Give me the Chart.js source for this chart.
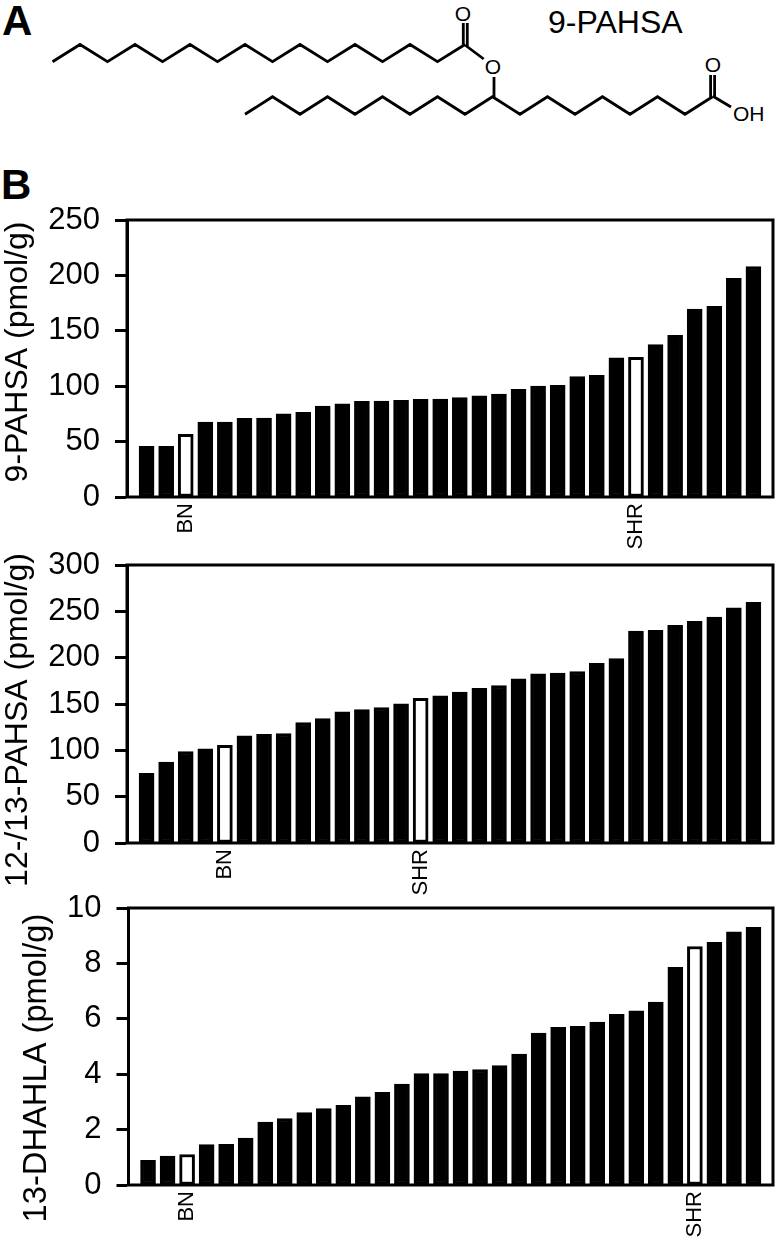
<!DOCTYPE html>
<html>
<head>
<meta charset="utf-8">
<title>9-PAHSA</title>
<script src="https://cdn.jsdelivr.net/npm/chart.js@4"></script>
<style>
  html, body { margin: 0; padding: 0; background: #fff; }
  body { position: relative; width: 777px; height: 1245px; overflow: hidden; }
  canvas, svg { position: absolute; left: 0; }
  svg { top: 0; }
  svg text { font-family: "Liberation Sans", Arial, sans-serif; fill: #000; }
</style>
</head>
<body>
<svg id="structure" width="777" height="205"></svg>
<canvas id="chart1" width="777" height="347" style="top:205px"></canvas>
<canvas id="chart2" width="777" height="348" style="top:550px"></canvas>
<canvas id="chart3" width="777" height="352" style="top:893px"></canvas>

<script>
// Values, sorted low to high in each panel
const values9Pahsa = [45.8, 45.8, 56.6, 67.7, 67.7, 71, 71.2, 75, 76.4, 82, 84, 86.4, 86.6, 87.2, 88.1, 88.4,
    89.7, 91.2, 93, 97.2, 100.2, 100.8, 108.6, 109.8, 125.5, 126, 137.5, 146, 169.7, 172, 197.4, 208];
const values1213Pahsa = [75.3, 87.2, 98.7, 101.6, 105.5, 115.6, 117.4, 118.2, 130, 134.3, 141.5, 144, 146.2, 150.2, 156, 158.8,
    162.8, 166.8, 170, 177.2, 182.6, 183.3, 185.1, 194, 199, 228.7, 229.4, 234.8, 239.2, 243.9, 253.9, 259.7];
const values13Dhahla = [0.89, 1.04, 1.1, 1.46, 1.47, 1.69, 2.27, 2.4, 2.61, 2.76, 2.88, 3.18, 3.35, 3.64, 4.02, 4.02,
    4.11, 4.17, 4.31, 4.73, 5.48, 5.69, 5.73, 5.88, 6.16, 6.29, 6.6, 7.86, 8.61, 8.76, 9.14, 9.3];

// Which bar is which strain in each panel
const strains9Pahsa = { 2: 'BN', 25: 'SHR' };
const strains1213Pahsa = { 4: 'BN', 14: 'SHR' };
const strains13Dhahla = { 2: 'BN', 28: 'SHR' };

const FONT = '"Liberation Sans", Arial, sans-serif';

// Box around the plot, the top and right sides have no axis of their own
const framePlugin = {
    id: 'frame',
    afterDraw(chart) {
        const a = chart.chartArea;
        const ctx = chart.ctx;
        ctx.save();
        ctx.strokeStyle = '#000';
        ctx.lineWidth = 3;
        ctx.strokeRect(a.left, a.top, a.right - a.left, a.bottom - a.top);
        ctx.restore();
    }
};

// The y titles sit off centre and differ per panel, so they are placed by hand
const yTitlePlugin = {
    id: 'yTitle',
    afterDraw(chart, args, opts) {
        const ctx = chart.ctx;
        ctx.save();
        ctx.translate(opts.x, opts.y);
        ctx.rotate(-Math.PI / 2);
        ctx.font = opts.size + 'px ' + FONT;
        ctx.fillStyle = '#000';
        ctx.textAlign = 'center';
        ctx.textBaseline = 'middle';
        ctx.fillText(opts.text, 0, 0);
        ctx.restore();
    }
};

function makeChart(id, values, strains, yMax, yStep, opts) {
    // one empty slot each side gives the gap between axis and first/last bar
    const labels = [''].concat(values.map((v, i) => strains[i] || ''), ['']);
    const fills = values.map((v, i) => strains[i] ? '#fff' : '#000');

    return new Chart(document.getElementById(id), {
        type: 'bar',
        data: {
            labels: labels,
            datasets: [{
                data: [null].concat(values, [null]),
                backgroundColor: [null].concat(fills, [null]),
                borderColor: '#000',
                borderWidth: 3,
                borderSkipped: false,
                barThickness: 15
            }]
        },
        options: {
            responsive: false,
            animation: false,
            layout: {
                autoPadding: false,
                padding: { top: 15, right: 4, left: 0, bottom: 0 }
            },
            plugins: {
                legend: { display: false },
                tooltip: { enabled: false },
                yTitle: opts.title
            },
            scales: {
                x: {
                    offset: false,
                    grid: { display: false, drawTicks: false, tickLength: 0 },
                    border: { display: false },
                    ticks: {
                        autoSkip: false,
                        minRotation: 90,
                        maxRotation: 90,
                        padding: 6,
                        color: '#000',
                        font: { family: FONT, size: 22 }
                    },
                    afterFit(scale) {
                        scale.height = opts.xHeight;
                        scale.paddingLeft = 0;
                        scale.paddingRight = 0;
                    }
                },
                y: {
                    min: 0,
                    max: yMax,
                    grid: {
                        drawOnChartArea: false,
                        tickLength: 12,
                        tickWidth: 3,
                        tickColor: '#000'
                    },
                    border: { color: '#000', width: 3 },
                    ticks: {
                        stepSize: yStep,
                        padding: 15,
                        color: '#000',
                        font: { family: FONT, size: 31 }
                    },
                    afterFit(scale) {
                        scale.width = opts.yWidth;
                        scale.paddingTop = 0;
                        scale.paddingBottom = 0;
                    }
                }
            }
        },
        plugins: [framePlugin, yTitlePlugin]
    });
}

makeChart('chart1', values9Pahsa, strains9Pahsa, 250, 50, {
    xHeight: 55, yWidth: 127,
    title: { text: '9-PAHSA (pmol/g)', x: 18, y: 147, size: 32 }
});
makeChart('chart2', values1213Pahsa, strains1213Pahsa, 300, 50, {
    xHeight: 55, yWidth: 127,
    title: { text: '12-/13-PAHSA (pmol/g)', x: 18, y: 170, size: 32 }
});
makeChart('chart3', values13Dhahla, strains13Dhahla, 10, 2, {
    xHeight: 60, yWidth: 128.5,
    title: { text: '13-DHAHLA (pmol/g)', x: 37, y: 175, size: 32.7 }
});

// Panel A, the molecule and the panel letters
function zigzag(x0, step, count, yLow, yHigh) {
    const pts = [];
    for (let i = 0; i < count; i++) {
        pts.push((x0 + step * i) + ',' + (i % 2 ? yHigh : yLow));
    }
    return pts.join(' ');
}

const svg = document.getElementById('structure');
const bonds = [
    [zigzag(52.5, 27.5, 16, 61.7, 44.5)],
    [zigzag(245, 27.5, 18, 114.3, 96.7)],
    ['465,45 483.7,59'],
    ['463.3,46 463.3,23'],
    ['467.3,46 467.3,23'],
    ['494,77 494,97'],
    ['712.6,96 731,107'],
    ['710.6,97 710.6,75'],
    ['714.6,97 714.6,75']
];
let markup = '';
bonds.forEach(b => {
    markup += '<polyline points="' + b[0] + '" fill="none" stroke="#000" stroke-width="2.8" stroke-linejoin="miter"/>';
});
markup += '<text x="463" y="21" font-size="21" text-anchor="middle">O</text>';
markup += '<text x="493" y="74" font-size="21" text-anchor="middle">O</text>';
markup += '<text x="713" y="72" font-size="21" text-anchor="middle">O</text>';
markup += '<text x="733" y="121" font-size="21">OH</text>';
markup += '<text x="548" y="33" font-size="32">9-PAHSA</text>';
markup += '<text x="2" y="35" font-size="42" font-weight="bold">A</text>';
markup += '<text x="1" y="199" font-size="42" font-weight="bold">B</text>';
svg.innerHTML = markup;
</script>
</body>
</html>
